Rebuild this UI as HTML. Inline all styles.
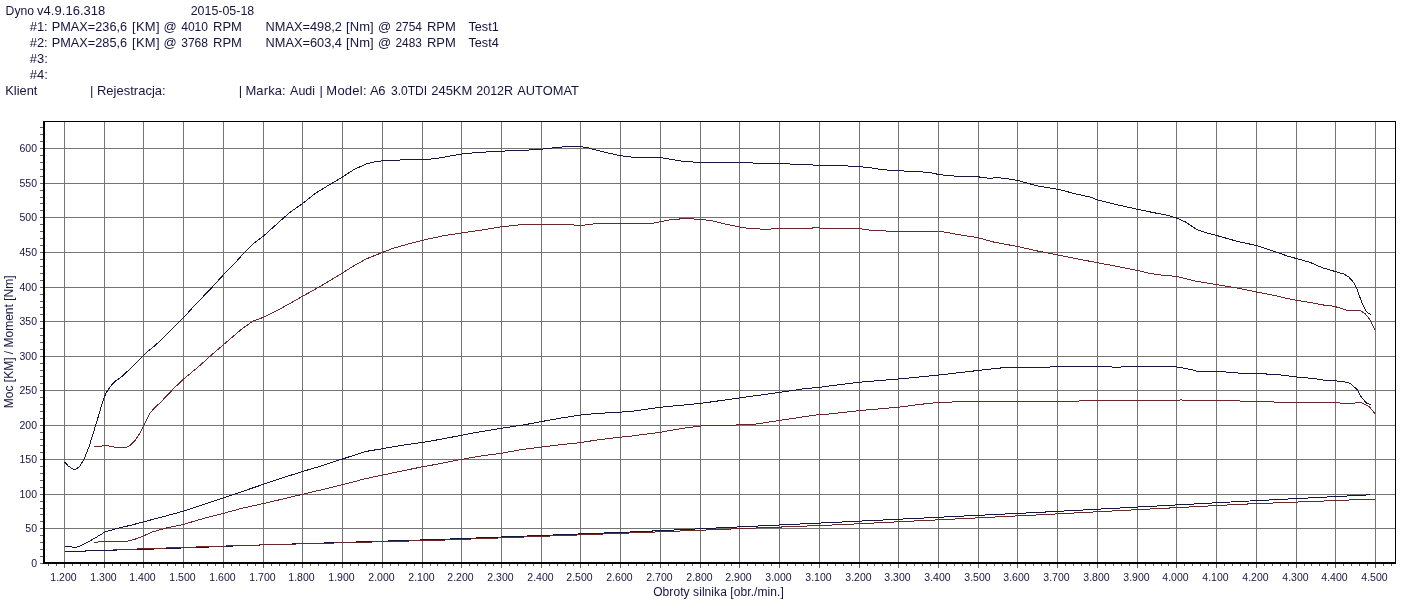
<!DOCTYPE html><html><head><meta charset="utf-8"><style>html,body{margin:0;padding:0;background:#fff;width:1424px;height:612px;overflow:hidden}svg{display:block}text{font-family:"Liberation Sans",Arial,sans-serif;fill:#141440}</style></head><body>
<svg width="1424" height="612" viewBox="0 0 1424 612">
<rect width="1424" height="612" fill="#fff"/>
<g font-size="13">
<text transform="translate(5.57 15) scale(1 1.05)" textLength="28.49" lengthAdjust="spacingAndGlyphs">Dyno</text>
<text transform="translate(37.10 15) scale(1 1.05)" textLength="68.15" lengthAdjust="spacing">v4.9.16.318</text>
<text transform="translate(190.70 15) scale(1 1.05)" textLength="63.50" lengthAdjust="spacingAndGlyphs">2015-05-18</text>
<text transform="translate(29.80 31) scale(1 1.05)" textLength="17.88" lengthAdjust="spacing">#1:</text>
<text transform="translate(29.80 47) scale(1 1.05)" textLength="17.88" lengthAdjust="spacing">#2:</text>
<text transform="translate(51.80 31) scale(1 1.05)" textLength="75.27" lengthAdjust="spacingAndGlyphs">PMAX=236,6</text>
<text transform="translate(51.80 47) scale(1 1.05)" textLength="75.27" lengthAdjust="spacingAndGlyphs">PMAX=285,6</text>
<text transform="translate(131.95 31) scale(1 1.05)" textLength="27.68" lengthAdjust="spacing">[KM]</text>
<text transform="translate(131.95 47) scale(1 1.05)" textLength="27.68" lengthAdjust="spacing">[KM]</text>
<text transform="translate(163.60 31) scale(1 1.05)">@</text>
<text transform="translate(163.60 47) scale(1 1.05)">@</text>
<text transform="translate(181.20 31) scale(1 1.05)" textLength="26.82" lengthAdjust="spacingAndGlyphs">4010</text>
<text transform="translate(181.20 47) scale(1 1.05)" textLength="26.82" lengthAdjust="spacingAndGlyphs">3768</text>
<text transform="translate(213.00 31) scale(1 1.05)" textLength="28.89" lengthAdjust="spacing">RPM</text>
<text transform="translate(213.00 47) scale(1 1.05)" textLength="28.89" lengthAdjust="spacing">RPM</text>
<text transform="translate(265.60 31) scale(1 1.05)" textLength="76.29" lengthAdjust="spacingAndGlyphs">NMAX=498,2</text>
<text transform="translate(265.60 47) scale(1 1.05)" textLength="76.29" lengthAdjust="spacingAndGlyphs">NMAX=603,4</text>
<text transform="translate(346.10 31) scale(1 1.05)" textLength="27.55" lengthAdjust="spacing">[Nm]</text>
<text transform="translate(346.10 47) scale(1 1.05)" textLength="27.55" lengthAdjust="spacing">[Nm]</text>
<text transform="translate(377.90 31) scale(1 1.05)">@</text>
<text transform="translate(377.90 47) scale(1 1.05)">@</text>
<text transform="translate(395.50 31) scale(1 1.05)" textLength="26.42" lengthAdjust="spacingAndGlyphs">2754</text>
<text transform="translate(395.50 47) scale(1 1.05)" textLength="26.42" lengthAdjust="spacingAndGlyphs">2483</text>
<text transform="translate(426.90 31) scale(1 1.05)" textLength="28.89" lengthAdjust="spacing">RPM</text>
<text transform="translate(426.90 47) scale(1 1.05)" textLength="28.89" lengthAdjust="spacing">RPM</text>
<text transform="translate(468.40 31) scale(1 1.05)" textLength="30.38" lengthAdjust="spacingAndGlyphs">Test1</text>
<text transform="translate(468.40 47) scale(1 1.05)" textLength="30.38" lengthAdjust="spacingAndGlyphs">Test4</text>
<text transform="translate(29.80 63) scale(1 1.05)">#3:</text>
<text transform="translate(29.80 79) scale(1 1.05)">#4:</text>
<text transform="translate(5.30 95) scale(1 1.05)" textLength="32.13" lengthAdjust="spacingAndGlyphs">Klient</text>
<text transform="translate(89.90 95) scale(1 1.05)">|</text>
<text transform="translate(96.90 95) scale(1 1.05)" textLength="68.74" lengthAdjust="spacing">Rejestracja:</text>
<text transform="translate(238.80 95) scale(1 1.05)">|</text>
<text transform="translate(245.40 95) scale(1 1.05)" textLength="40.33" lengthAdjust="spacing">Marka:</text>
<text transform="translate(290.10 95) scale(1 1.05)" textLength="24.93" lengthAdjust="spacingAndGlyphs">Audi</text>
<text transform="translate(319.40 95) scale(1 1.05)">|</text>
<text transform="translate(326.30 95) scale(1 1.05)" textLength="40.33" lengthAdjust="spacing">Model:</text>
<text transform="translate(369.90 95) scale(1 1.05)" textLength="15.61" lengthAdjust="spacing">A6</text>
<text transform="translate(390.90 95) scale(1 1.05)" textLength="36.32" lengthAdjust="spacingAndGlyphs">3.0TDI</text>
<text transform="translate(431.35 95) scale(1 1.05)" textLength="40.95" lengthAdjust="spacing">245KM</text>
<text transform="translate(476.20 95) scale(1 1.05)" textLength="36.91" lengthAdjust="spacingAndGlyphs">2012R</text>
<text transform="translate(517.20 95) scale(1 1.05)" textLength="61.66" lengthAdjust="spacingAndGlyphs">AUTOMAT</text>
</g>
<path d="M64.5 122V562M104.5 122V562M143.5 122V562M183.5 122V562M223.5 122V562M263.5 122V562M302.5 122V562M342.5 122V562M382.5 122V562M422.5 122V562M461.5 122V562M501.5 122V562M541.5 122V562M580.5 122V562M620.5 122V562M660.5 122V562M700.5 122V562M739.5 122V562M779.5 122V562M819.5 122V562M859.5 122V562M898.5 122V562M938.5 122V562M978.5 122V562M1017.5 122V562M1057.5 122V562M1097.5 122V562M1137.5 122V562M1176.5 122V562M1216.5 122V562M1256.5 122V562M1296.5 122V562M1335.5 122V562M1375.5 122V562M45 528.5H1395M45 494.5H1395M45 459.5H1395M45 425.5H1395M45 390.5H1395M45 356.5H1395M45 321.5H1395M45 287.5H1395M45 252.5H1395M45 217.5H1395M45 183.5H1395M45 148.5H1395" stroke="#747474" stroke-width="1" fill="none" shape-rendering="crispEdges"/>
<path d="M48.5 564V566M56.5 564V566M64.5 564V568M72.5 564V566M80.5 564V566M88.5 564V566M96.5 564V566M104.5 564V568M112.5 564V566M120.5 564V566M128.5 564V566M136.5 564V566M143.5 564V568M151.5 564V566M159.5 564V566M167.5 564V566M175.5 564V566M183.5 564V568M191.5 564V566M199.5 564V566M207.5 564V566M215.5 564V566M223.5 564V568M231.5 564V566M239.5 564V566M247.5 564V566M255.5 564V566M263.5 564V568M271.5 564V566M279.5 564V566M286.5 564V566M294.5 564V566M302.5 564V568M310.5 564V566M318.5 564V566M326.5 564V566M334.5 564V566M342.5 564V568M350.5 564V566M358.5 564V566M366.5 564V566M374.5 564V566M382.5 564V568M390.5 564V566M398.5 564V566M406.5 564V566M414.5 564V566M422.5 564V568M430.5 564V566M437.5 564V566M445.5 564V566M453.5 564V566M461.5 564V568M469.5 564V566M477.5 564V566M485.5 564V566M493.5 564V566M501.5 564V568M509.5 564V566M517.5 564V566M525.5 564V566M533.5 564V566M541.5 564V568M549.5 564V566M557.5 564V566M565.5 564V566M573.5 564V566M580.5 564V568M588.5 564V566M596.5 564V566M604.5 564V566M612.5 564V566M620.5 564V568M628.5 564V566M636.5 564V566M644.5 564V566M652.5 564V566M660.5 564V568M668.5 564V566M676.5 564V566M684.5 564V566M692.5 564V566M700.5 564V568M708.5 564V566M716.5 564V566M724.5 564V566M731.5 564V566M739.5 564V568M747.5 564V566M755.5 564V566M763.5 564V566M771.5 564V566M779.5 564V568M787.5 564V566M795.5 564V566M803.5 564V566M811.5 564V566M819.5 564V568M827.5 564V566M835.5 564V566M843.5 564V566M851.5 564V566M859.5 564V568M867.5 564V566M874.5 564V566M882.5 564V566M890.5 564V566M898.5 564V568M906.5 564V566M914.5 564V566M922.5 564V566M930.5 564V566M938.5 564V568M946.5 564V566M954.5 564V566M962.5 564V566M970.5 564V566M978.5 564V568M986.5 564V566M994.5 564V566M1002.5 564V566M1010.5 564V566M1017.5 564V568M1025.5 564V566M1033.5 564V566M1041.5 564V566M1049.5 564V566M1057.5 564V568M1065.5 564V566M1073.5 564V566M1081.5 564V566M1089.5 564V566M1097.5 564V568M1105.5 564V566M1113.5 564V566M1121.5 564V566M1129.5 564V566M1137.5 564V568M1145.5 564V566M1153.5 564V566M1161.5 564V566M1168.5 564V566M1176.5 564V568M1184.5 564V566M1192.5 564V566M1200.5 564V566M1208.5 564V566M1216.5 564V568M1224.5 564V566M1232.5 564V566M1240.5 564V566M1248.5 564V566M1256.5 564V568M1264.5 564V566M1272.5 564V566M1280.5 564V566M1288.5 564V566M1296.5 564V568M1304.5 564V566M1311.5 564V566M1319.5 564V566M1327.5 564V566M1335.5 564V568M1343.5 564V566M1351.5 564V566M1359.5 564V566M1367.5 564V566M1375.5 564V568M1383.5 564V566M1391.5 564V566M40 556.5H43M40 549.5H43M40 542.5H43M40 535.5H43M40 528.5H43M40 521.5H43M40 514.5H43M40 508.5H43M40 501.5H43M40 494.5H43M40 487.5H43M40 480.5H43M40 473.5H43M40 466.5H43M40 459.5H43M40 452.5H43M40 445.5H43M40 439.5H43M40 432.5H43M40 425.5H43M40 418.5H43M40 411.5H43M40 404.5H43M40 397.5H43M40 390.5H43M40 383.5H43M40 376.5H43M40 370.5H43M40 363.5H43M40 356.5H43M40 349.5H43M40 342.5H43M40 335.5H43M40 328.5H43M40 321.5H43M40 314.5H43M40 307.5H43M40 301.5H43M40 294.5H43M40 287.5H43M40 280.5H43M40 273.5H43M40 266.5H43M40 259.5H43M40 252.5H43M40 245.5H43M40 238.5H43M40 231.5H43M40 224.5H43M40 217.5H43M40 210.5H43M40 203.5H43M40 197.5H43M40 190.5H43M40 183.5H43M40 176.5H43M40 169.5H43M40 162.5H43M40 155.5H43M40 148.5H43M40 141.5H43M40 134.5H43M40 127.5H43M40 563.5H43" stroke="#606060" stroke-width="1" fill="none" shape-rendering="crispEdges"/>
<path d="M43 121H1396V122H1395V564H43Z" fill="none"/>
<rect x="43" y="121" width="1353" height="1" fill="#000"/>
<rect x="1395" y="121" width="1" height="443" fill="#000"/>
<rect x="43" y="121" width="2" height="443" fill="#000"/>
<rect x="43" y="562" width="1353" height="2" fill="#000"/>
<polyline points="64.5,551.3 85.2,551.3 86.0,550.5 104.3,550.3 143.6,549.4 183.4,547.9 223.4,546.5 244.0,545.5 440.0,539.4 640.0,531.6 840.0,522.1 1040.0,512.3 1240.0,501.5 1370.0,494.8" fill="none" stroke="#16163e" stroke-width="1.0" stroke-linejoin="round" shape-rendering="crispEdges"/>
<polyline points="113.0,549.8 244.0,545.4 440.0,540.2 640.0,532.6 840.0,524.7 1040.0,514.8 1240.0,504.3 1375.0,499.0" fill="none" stroke="#6a2828" stroke-width="1.0" stroke-linejoin="round" shape-rendering="crispEdges"/>
<polyline points="94.2,542.4 104.3,541.3 126.4,541.3 135.2,539.1 143.6,535.9 152.8,531.8 166.1,528.1 183.4,524.4 205.8,517.8 223.4,513.4 241.0,508.5 263.5,503.5 284.1,498.7 302.5,494.3 322.4,489.6 342.5,484.7 365.0,478.8 382.4,475.1 401.8,471.0 422.4,466.8 437.0,464.2 461.5,459.4 479.1,456.2 501.6,453.2 523.2,449.3 541.3,447.1 560.0,444.7 580.6,442.6 596.8,440.0 620.6,437.1 632.0,436.0 660.6,432.2 681.5,428.5 700.6,426.0 739.6,424.9 750.6,424.9 779.7,420.4 819.7,414.4 827.0,414.2 859.6,410.6 898.5,407.2 920.6,404.3 938.5,402.5 957.4,401.8 960.3,401.0 1022.0,401.1 1078.8,401.2 1080.3,400.4 1178.8,400.4 1181.0,399.4 1183.2,400.4 1217.0,400.4 1239.8,400.8 1241.1,401.4 1272.5,401.4 1275.1,402.3 1339.2,402.3 1340.5,403.4 1354.9,403.1 1360.1,402.1 1364.0,404.0 1369.2,406.6 1375.1,413.8" fill="none" stroke="#6a2828" stroke-width="1.0" stroke-linejoin="round" shape-rendering="crispEdges"/>
<polyline points="64.6,546.5 70.5,546.8 74.9,547.4 80.0,546.2 88.1,542.1 96.9,536.9 104.3,532.4 108.7,530.8 117.5,528.4 132.2,524.9 143.6,521.8 161.6,517.1 183.4,511.2 205.8,503.8 223.4,497.9 241.0,491.9 263.5,484.3 284.1,477.4 302.5,471.5 322.4,465.6 342.5,459.0 365.0,451.6 382.4,448.7 401.8,445.3 422.4,442.4 440.0,439.4 461.5,435.3 479.1,431.9 501.6,428.2 523.2,425.0 541.3,421.6 560.0,418.2 580.6,415.0 596.8,413.5 620.6,412.1 632.0,411.3 660.6,407.2 700.6,403.4 739.6,397.9 779.7,392.4 806.5,388.4 819.7,387.4 827.0,386.3 859.6,382.2 898.5,379.0 938.5,375.1 978.7,370.4 1001.5,367.9 1004.4,367.1 1022.0,367.3 1049.4,367.4 1050.9,366.5 1111.2,366.5 1112.6,367.4 1120.0,367.4 1122.9,366.5 1174.4,366.5 1181.8,367.8 1192.1,369.7 1196.5,371.2 1215.6,371.6 1235.9,372.4 1238.5,373.3 1264.7,373.3 1267.3,374.3 1277.7,374.6 1288.2,375.9 1298.7,377.2 1311.7,378.3 1324.8,380.2 1335.5,380.9 1344.4,381.8 1349.6,383.1 1353.6,386.4 1357.5,390.0 1359.4,394.2 1362.7,398.8 1366.6,403.1 1370.6,404.4" fill="none" stroke="#16163e" stroke-width="1.0" stroke-linejoin="round" shape-rendering="crispEdges"/>
<polyline points="94.1,447.0 99.0,446.5 105.6,445.4 110.5,446.2 117.0,447.8 125.2,447.8 130.1,445.4 135.0,440.5 139.9,433.1 143.7,425.8 149.7,413.5 154.6,407.8 160.0,402.9 173.9,388.3 183.7,379.0 198.4,366.8 210.7,355.7 223.4,344.7 242.4,328.5 252.9,321.2 263.3,317.3 281.6,308.1 302.6,296.3 320.9,285.9 342.5,273.0 354.5,265.3 366.8,258.7 382.2,252.5 393.7,248.1 408.4,244.0 422.4,240.3 442.7,235.9 461.9,232.9 482.0,230.0 501.6,226.8 520.0,224.8 541.2,224.7 569.0,224.7 580.8,225.5 596.5,223.5 620.4,223.1 653.3,223.1 660.4,221.8 672.9,219.2 686.7,218.8 700.4,219.2 710.2,220.6 715.0,221.4 724.8,223.9 739.5,226.9 751.3,228.8 768.0,229.2 779.3,228.4 811.1,228.4 815.0,227.3 819.5,227.8 820.9,228.4 859.7,228.6 869.9,230.2 885.6,230.8 887.5,231.4 915.0,231.4 938.8,231.0 959.0,234.7 978.6,237.8 992.4,241.8 1017.5,246.5 1037.5,251.0 1057.5,254.9 1076.7,258.8 1097.6,262.7 1119.6,266.9 1137.3,270.4 1149.0,273.3 1162.7,275.3 1176.5,276.3 1196.1,281.2 1216.7,284.7 1237.3,288.0 1256.5,292.0 1276.5,295.9 1284.3,297.8 1296.3,300.2 1312.7,302.9 1322.5,304.9 1334.0,306.2 1347.0,310.3 1360.1,310.6 1365.0,313.6 1369.1,318.5 1372.4,325.0 1374.8,329.6" fill="none" stroke="#6a2828" stroke-width="1.0" stroke-linejoin="round" shape-rendering="crispEdges"/>
<polyline points="64.4,461.7 68.0,465.8 72.9,469.1 76.2,469.1 80.2,465.8 84.3,458.5 89.2,446.2 95.0,427.4 99.0,414.3 102.3,402.9 105.6,393.9 109.7,387.4 113.7,382.5 117.0,380.0 122.4,376.1 132.2,366.8 143.6,355.1 148.2,351.1 153.1,347.2 161.9,339.3 171.8,329.5 180.1,321.1 183.6,317.7 195.4,304.4 199.8,300.0 209.8,289.8 223.6,274.6 233.3,265.0 243.7,253.2 252.9,244.0 263.3,236.2 276.4,224.4 289.5,212.7 302.6,203.5 315.6,193.1 328.7,185.2 342.3,177.1 354.5,169.2 366.8,163.8 376.6,161.4 382.2,160.9 393.7,160.1 422.4,159.7 435.4,158.7 447.6,156.5 461.9,154.0 477.0,152.5 501.6,151.1 520.0,150.6 541.2,149.2 555.3,147.6 567.1,146.5 580.8,146.7 588.6,148.0 602.4,151.6 612.2,153.9 620.4,155.7 631.8,157.1 660.4,157.5 669.0,159.0 680.8,161.0 692.5,162.0 700.4,162.4 720.0,162.4 739.5,162.4 751.3,162.5 754.2,163.3 779.3,163.5 789.5,163.9 791.5,164.5 812.1,164.7 814.0,165.5 846.4,165.5 850.3,166.5 859.7,166.7 871.9,168.0 883.6,169.8 898.9,170.8 915.0,171.4 929.6,172.5 938.8,174.5 951.2,175.9 978.6,176.9 990.4,178.4 996.3,177.5 1008.0,178.8 1017.5,180.4 1031.6,184.3 1039.4,186.3 1057.5,189.2 1076.7,194.1 1090.4,197.1 1097.6,200.0 1119.6,205.3 1137.3,209.2 1152.9,212.5 1168.6,215.5 1176.5,218.0 1186.3,222.4 1196.1,229.2 1205.9,232.7 1216.7,235.5 1237.3,241.4 1256.5,245.5 1276.5,252.2 1288.2,256.3 1296.7,258.6 1309.4,262.1 1322.5,267.8 1335.6,271.6 1343.8,274.0 1348.7,276.8 1353.6,282.5 1356.8,288.2 1359.3,295.6 1362.6,304.6 1366.6,311.9 1370.7,314.7" fill="none" stroke="#16163e" stroke-width="1.0" stroke-linejoin="round" shape-rendering="crispEdges"/>
<g font-size="10.5" text-anchor="end">
<text x="37" y="567">0</text>
<text x="37" y="532">50</text>
<text x="37" y="498">100</text>
<text x="37" y="463">150</text>
<text x="37" y="429">200</text>
<text x="37" y="394">250</text>
<text x="37" y="360">300</text>
<text x="37" y="325">350</text>
<text x="37" y="291">400</text>
<text x="37" y="256">450</text>
<text x="37" y="221">500</text>
<text x="37" y="187">550</text>
<text x="37" y="152">600</text>
</g>
<g font-size="10.5" text-anchor="middle">
<text x="63.5" y="581">1.200</text>
<text x="103.5" y="581">1.300</text>
<text x="142.5" y="581">1.400</text>
<text x="182.5" y="581">1.500</text>
<text x="222.5" y="581">1.600</text>
<text x="262.5" y="581">1.700</text>
<text x="301.5" y="581">1.800</text>
<text x="341.5" y="581">1.900</text>
<text x="381.5" y="581">2.000</text>
<text x="421.5" y="581">2.100</text>
<text x="460.5" y="581">2.200</text>
<text x="500.5" y="581">2.300</text>
<text x="540.5" y="581">2.400</text>
<text x="579.5" y="581">2.500</text>
<text x="619.5" y="581">2.600</text>
<text x="659.5" y="581">2.700</text>
<text x="699.5" y="581">2.800</text>
<text x="738.5" y="581">2.900</text>
<text x="778.5" y="581">3.000</text>
<text x="818.5" y="581">3.100</text>
<text x="858.5" y="581">3.200</text>
<text x="897.5" y="581">3.300</text>
<text x="937.5" y="581">3.400</text>
<text x="977.5" y="581">3.500</text>
<text x="1016.5" y="581">3.600</text>
<text x="1056.5" y="581">3.700</text>
<text x="1096.5" y="581">3.800</text>
<text x="1136.5" y="581">3.900</text>
<text x="1175.5" y="581">4.000</text>
<text x="1215.5" y="581">4.100</text>
<text x="1255.5" y="581">4.200</text>
<text x="1295.5" y="581">4.300</text>
<text x="1334.5" y="581">4.400</text>
<text x="1374.5" y="581">4.500</text>
</g>
<text x="718.5" y="596" font-size="12" text-anchor="middle" textLength="130.6" lengthAdjust="spacing">Obroty silnika [obr./min.]</text>
<text transform="translate(12.8 341.8) rotate(-90)" font-size="12" text-anchor="middle">Moc [KM] / Moment [Nm]</text>
</svg></body></html>
